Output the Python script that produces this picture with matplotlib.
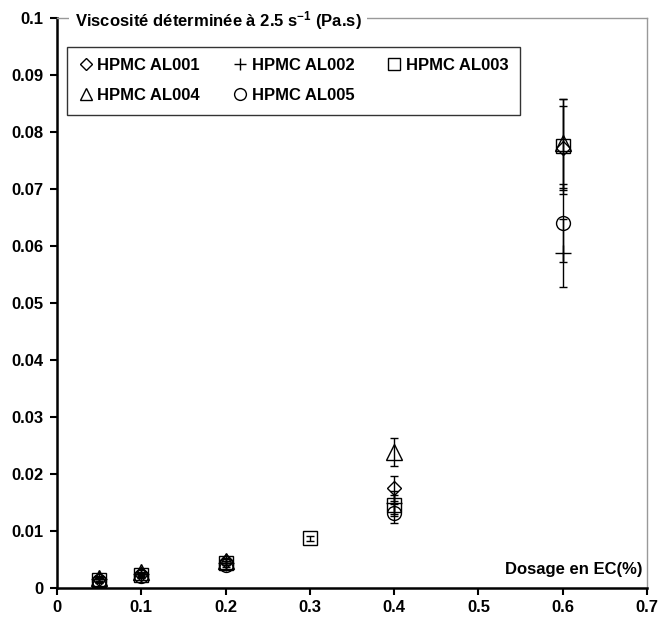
import numpy as np
import matplotlib
matplotlib.use("Agg")
import matplotlib.pyplot as plt

plt.rcParams['font.family'] = ['Liberation Sans', 'DejaVu Sans']
plt.rcParams['font.weight'] = 'bold'
plt.rcParams['mathtext.fontset'] = 'custom'
plt.rcParams['mathtext.bf'] = 'Liberation Sans:bold'
plt.rcParams['mathtext.rm'] = 'Liberation Sans:bold'
plt.rcParams['mathtext.default'] = 'bf'

dosage = [0.05, 0.1, 0.2, 0.3, 0.4, 0.6]
nan = np.nan

al001 = [0.0016, 0.0025, 0.0047, nan, 0.0175, 0.0772]
al001_err = [0.0003, 0.0003, 0.0004, nan, 0.0022, 0.0074]
al002 = [0.0015, 0.0024, 0.0044, nan, 0.0150, 0.0588]
al002_err = [0.0003, 0.0003, 0.0004, nan, 0.0020, 0.0060]
al003 = [0.0014, 0.0023, 0.0044, 0.0087, 0.0145, 0.0775]
al003_err = [0.0003, 0.0003, 0.0004, 0.0005, 0.0018, 0.0083]
al004 = [0.0018, 0.0028, 0.0048, nan, 0.0239, 0.0780]
al004_err = [0.0003, 0.0003, 0.0004, nan, 0.0025, 0.0078]
al005 = [0.0012, 0.0021, 0.0040, nan, 0.0131, 0.0640]
al005_err = [0.0003, 0.0003, 0.0004, nan, 0.0017, 0.0068]

series = [
    ("HPMC AL001", al001, al001_err, 'D', 7),
    ("HPMC AL002", al002, al002_err, '+', 11),
    ("HPMC AL003", al003, al003_err, 's', 10),
    ("HPMC AL004", al004, al004_err, '^', 11),
    ("HPMC AL005", al005, al005_err, 'o', 10),
]

fig = plt.figure(figsize=(6.58, 6.23), dpi=100)
ax = fig.add_axes([57/658, 1-588/623, 590/658, 570/623])

handles = {}
for name, y, e, m, ms in series:
    y = np.array(y, float)
    e = np.array(e, float)
    ax.errorbar(dosage, y, yerr=e, fmt='none', ecolor='black', elinewidth=1.0,
                capsize=3, capthick=1.0, zorder=2)
    h, = ax.plot(dosage, y, linestyle='none', marker=m, markersize=ms,
                 markerfacecolor='none', markeredgecolor='black',
                 markeredgewidth=1.0, color='black', label=name, zorder=3)
    handles[name] = h

ax.set_xlim(0, 0.7)
ax.set_ylim(0, 0.1)
ax.set_xticks(np.arange(0, 0.71, 0.1))
ax.set_xticklabels(['0', '0.1', '0.2', '0.3', '0.4', '0.5', '0.6', '0.7'])
ax.set_yticks(np.arange(0, 0.101, 0.01))
ax.set_yticklabels(['0', '0.01', '0.02', '0.03', '0.04', '0.05', '0.06', '0.07', '0.08', '0.09', '0.1'])
ax.tick_params(axis='both', direction='out', length=5, width=1.5, labelsize=12,
               colors='black')
ax.tick_params(axis='x', pad=4)
ax.tick_params(axis='y', pad=5)
for lab in ax.get_xticklabels() + ax.get_yticklabels():
    lab.set_fontweight('bold')

for s in ['left', 'bottom']:
    ax.spines[s].set_linewidth(1.8)
    ax.spines[s].set_color('black')
for s in ['top', 'right']:
    ax.spines[s].set_linewidth(1.0)
    ax.spines[s].set_color('#999999')

ax.text(0.03, 0.995, 'Viscosité déterminée à 2.5 s$^{-1}$ (Pa.s)', transform=ax.transAxes,
        ha='left', va='center', fontsize=12, fontweight='bold',
        bbox=dict(facecolor='white', edgecolor='none', pad=4), zorder=5)

ax.text(0.993, 0.032, 'Dosage en EC(%)', transform=ax.transAxes, ha='right',
        va='center', fontsize=12, fontweight='bold')

order = ["HPMC AL001", "HPMC AL004", "HPMC AL002", "HPMC AL005", "HPMC AL003"]
leg = ax.legend(handles=[handles[n] for n in order], loc='upper left',
                bbox_to_anchor=(0.0175, 0.95),
                ncol=3, frameon=True, fancybox=False, edgecolor='black',
                prop={'weight': 'bold', 'size': 12}, handlelength=0.8,
                handletextpad=0.3, columnspacing=2.0, borderpad=0.7,
                labelspacing=0.9, markerscale=0.85, borderaxespad=0)
leg.get_frame().set_linewidth(1.0)

fig.savefig('out.png', dpi=100)
